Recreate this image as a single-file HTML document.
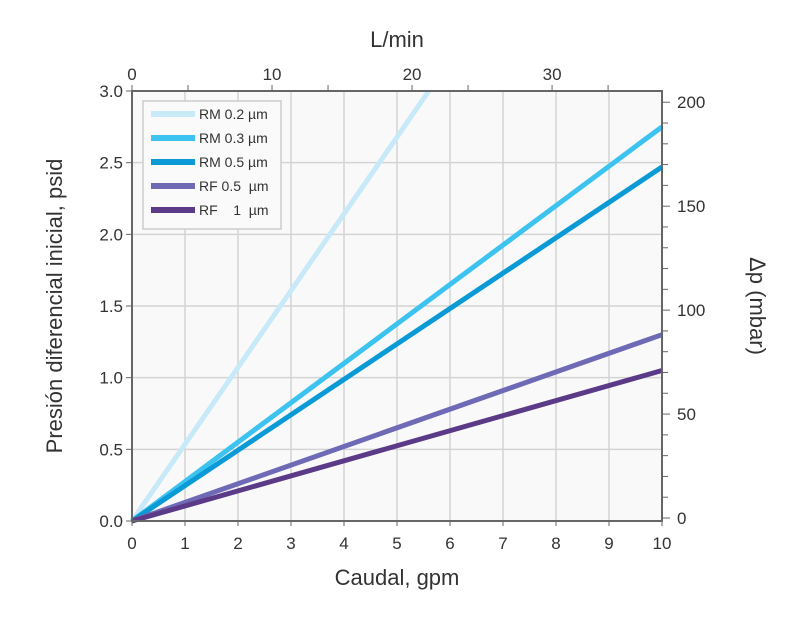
<!DOCTYPE html>
<html><head><meta charset="utf-8"><style>
body{margin:0;background:#fff;}
svg text{font-family:"Liberation Sans",sans-serif;fill:#333;}
</style></head><body>
<svg width="800" height="613" viewBox="0 0 800 613">
<rect x="132" y="91" width="530" height="430" fill="#f9f9f9"/>
<g id="grid"></g>
<g id="series"></g>
<g id="axes"></g>
<g id="legend"></g>
<text x="397" y="47" font-size="22" text-anchor="middle">L/min</text>
<text x="397" y="585" font-size="22" text-anchor="middle">Caudal, gpm</text>
<text transform="translate(62,306) rotate(-90)" font-size="22" text-anchor="middle">Presión diferencial inicial, psid</text>
<text transform="translate(750,306) rotate(90)" font-size="22" text-anchor="middle">Δp (mbar)</text>
</svg>
<script>
const xTicks=[0,1,2,3,4,5,6,7,8,9,10];
const yTicks=[0,0.5,1.0,1.5,2.0,2.5,3.0];
const yTickLabels=["0.0","0.5","1.0","1.5","2.0","2.5","3.0"];
const topTicks=[0,10,20,30];
const topMinor=[4,14,24,34];
const rightTicks=[0,50,100,150,200];
const seriesNames=["RM 0.2 µm","RM 0.3 µm","RM 0.5 µm","RF 0.5  µm","RF    1  µm"];
const seriesX=[[0,5.6],[0,10],[0,10],[0,10],[0,10]];
const seriesY=[[0,3.0],[0,2.75],[0,2.47],[0,1.30],[0,1.05]];
const colors=["#c8e9f8","#3cc3ef","#0a9ad6","#6f6ab5","#5b3b88"];
const NS="http://www.w3.org/2000/svg";
const X=v=>132+v*53, Y=v=>521-v*143.33;
const LX=l=>X(l/3.785), MY=m=>Y(m/68.948)-3;
function mk(p,t,a){const e=document.createElementNS(NS,t);for(const k in a)e.setAttribute(k,a[k]);p.appendChild(e);return e;}
const grid=document.getElementById('grid'),axes=document.getElementById('axes'),ser=document.getElementById('series'),leg=document.getElementById('legend');
xTicks.forEach(v=>{
 const l=mk(grid,'line',{x1:X(v),x2:X(v),y1:91,y2:521,stroke:'#d4d4d4','stroke-width':1.5});
 
 
 const t=mk(axes,'text',{x:X(v),y:549,'font-size':17,'text-anchor':'middle'});t.textContent=v;
 
 
 mk(axes,'line',{x1:X(v),x2:X(v),y1:521,y2:526,stroke:'#666'});
});
yTicks.forEach((v,i)=>{
 const l=mk(grid,'line',{x1:132,x2:662,y1:Y(v),y2:Y(v),stroke:'#d4d4d4','stroke-width':1.5});
 
 
 const t=mk(axes,'text',{x:123,y:Y(v)+6,'font-size':17,'text-anchor':'end'});t.textContent=yTickLabels[i];
 
 
 mk(axes,'line',{x1:126,x2:132,y1:Y(v),y2:Y(v),stroke:'#666'});
});
topTicks.forEach(v=>{
 const t=mk(axes,'text',{x:LX(v),y:80,'font-size':17,'text-anchor':'middle'});t.textContent=v;
 
 
 mk(axes,'line',{x1:LX(v),x2:LX(v),y1:85,y2:91,stroke:'#666'});
});
topMinor.forEach(v=>{mk(axes,'line',{x1:LX(v),x2:LX(v),y1:85,y2:91,stroke:'#666'});});
for(let m=10;m<=200;m+=10){if(m%50)mk(axes,'line',{x1:662,x2:668,y1:MY(m),y2:MY(m),stroke:'#666'});}
rightTicks.forEach(v=>{
 const t=mk(axes,'text',{x:677,y:MY(v)+6,'font-size':17});t.textContent=v;
 
 
 mk(axes,'line',{x1:662,x2:670,y1:MY(v),y2:MY(v),stroke:'#666'});
});
mk(axes,'rect',{x:132,y:91,width:530,height:430,fill:'none',stroke:'#666','stroke-width':2});
seriesNames.forEach((n,i)=>{
 const l=mk(ser,'line',{x1:X(seriesX[i][0]),y1:Y(seriesY[i][0]),x2:X(seriesX[i][1]),y2:Y(seriesY[i][1]),stroke:colors[i],'stroke-width':5});
 
 
});
const lb=mk(leg,'rect',{x:143,y:101,width:138,height:128,fill:'#fafafa',stroke:'#ccc','stroke-width':1.5});


seriesNames.forEach((n,i)=>{
 const y=114+i*24;
 mk(leg,'rect',{x:151,y:y-3,width:44,height:6,fill:colors[i]});
 const t=mk(leg,'text',{x:199,y:y+5,'font-size':14,style:'white-space:pre'});t.textContent=n;
 
 
});
</script>
</body></html>
